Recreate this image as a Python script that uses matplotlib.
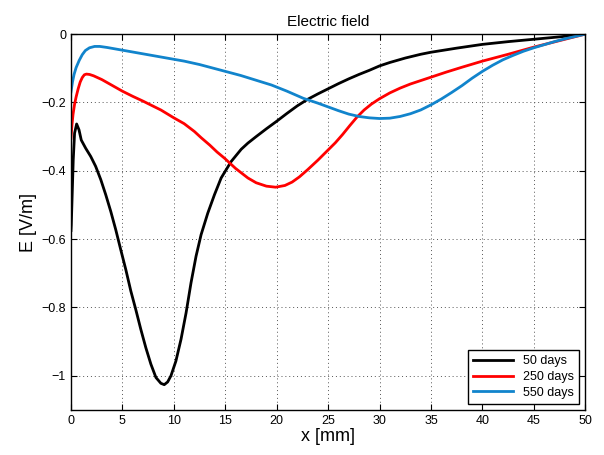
import numpy as np
import matplotlib.pyplot as plt

plt.rcParams['font.family'] = ['Liberation Sans', 'DejaVu Sans']

# 50 days
x50 = [0, 0.03, 0.22, 0.35, 0.55, 0.78, 1.0, 1.43, 1.92, 2.4, 2.9, 3.38, 3.87,
       4.35, 4.84, 5.33, 5.82, 6.3, 6.79, 7.28, 7.77, 8.26, 8.74, 9.07, 9.4,
       9.72, 10.2, 10.7, 11.19, 11.67, 12.16, 12.65, 13.3, 13.95, 14.6, 15.57,
       16.55, 17.2, 18, 19, 20, 21, 22, 23, 24, 25, 26, 27, 28, 29, 30, 31,
       32.5, 34, 35, 37.5, 40, 42.5, 45, 47.5, 50]
y50 = [-0.575, -0.558, -0.368, -0.29, -0.263, -0.28, -0.31, -0.334, -0.358,
       -0.387, -0.426, -0.47, -0.519, -0.572, -0.631, -0.689, -0.752, -0.806,
       -0.864, -0.918, -0.966, -1.005, -1.022, -1.026, -1.018, -1.0, -0.957,
       -0.893, -0.816, -0.728, -0.65, -0.587, -0.524, -0.47, -0.421, -0.373,
       -0.337, -0.319, -0.3, -0.277, -0.255, -0.232, -0.21, -0.191, -0.175,
       -0.16, -0.145, -0.131, -0.118, -0.106, -0.093, -0.083, -0.07, -0.059,
       -0.053, -0.041, -0.03, -0.022, -0.015, -0.008, 0]

# 250 days
x250 = [0, 0.1, 0.2, 0.35, 0.5, 0.7, 0.9, 1.1, 1.3, 1.5, 1.8, 2.2, 3, 4, 5, 6,
        7, 8, 8.74, 10, 11, 12, 12.65, 13.5, 14.2, 14.92, 16, 17.2, 18, 19,
        19.9, 20.8, 21.5, 22.2, 23, 24, 25, 25.7, 26.4, 27.1, 27.8, 28.5, 29.2,
        30, 31, 32, 33, 34, 35, 36.5, 38, 40, 42.5, 45, 47.5, 50]
y250 = [-0.305, -0.265, -0.235, -0.205, -0.184, -0.16, -0.14, -0.127, -0.119,
        -0.117, -0.118, -0.122, -0.133, -0.15, -0.167, -0.182, -0.196, -0.211,
        -0.222, -0.245, -0.262, -0.285, -0.303, -0.325, -0.345, -0.363,
        -0.393, -0.421, -0.435, -0.445, -0.448, -0.443, -0.433, -0.418,
        -0.397, -0.369, -0.339, -0.318, -0.294, -0.268, -0.243, -0.222,
        -0.205, -0.189, -0.172, -0.158, -0.146, -0.136, -0.126, -0.111,
        -0.097, -0.079, -0.059, -0.038, -0.019, 0]

# 550 days
x550 = [0, 0.15, 0.3, 0.5, 0.8, 1.1, 1.4, 1.8, 2.3, 2.8, 3.5, 5, 6.5, 8, 9.5,
        11, 12.5, 14, 15, 16.5, 18, 19.5, 21, 22.6, 24, 25, 26, 27, 28, 29, 30,
        31, 32, 33, 34, 35, 36, 37, 38, 39, 40, 41, 42, 43, 44, 45, 46, 47, 48,
        49, 50]
y550 = [-0.169, -0.14, -0.118, -0.098, -0.077, -0.06, -0.048, -0.04, -0.036,
        -0.036, -0.039, -0.047, -0.055, -0.063, -0.071, -0.079, -0.089,
        -0.101, -0.109, -0.121, -0.135, -0.149, -0.167, -0.188, -0.202,
        -0.213, -0.224, -0.234, -0.241, -0.245, -0.247, -0.246, -0.241,
        -0.233, -0.222, -0.207, -0.19, -0.171, -0.151, -0.129, -0.109,
        -0.091, -0.075, -0.062, -0.05, -0.04, -0.031, -0.022, -0.014, -0.007, 0]

yticks = [0, -0.2, -0.4, -0.6, -0.8, -1]
ytick_labels = ['0', '\u22120.2', '\u22120.4', '\u22120.6', '\u22120.8', '\u22121']

fig = plt.figure(figsize=(6.04, 4.55), dpi=100)
ax = fig.add_axes([0.1175, 0.099, 0.8515, 0.826])

ax.plot(x50, y50, color='black', lw=2, label='50 days')
ax.plot(x250, y250, color='#ff0000', lw=2, label='250 days')
ax.plot(x550, y550, color='#1184cc', lw=2, label='550 days')

ax.set_xlim(0, 50)
ax.set_ylim(-1.1, 0)
ax.set_xticks(range(0, 51, 5))
ax.set_yticks(yticks)
ax.set_yticklabels(ytick_labels)
ax.tick_params(direction='in', top=True, right=True, labelsize=9, length=4)
ax.grid(True, linestyle=(0, (1, 3)), color='#555555', linewidth=0.7)
for s in ax.spines.values():
    s.set_linewidth(1)

ax.set_title('Electric field', fontsize=11)
ax.set_xlabel('x [mm]', fontsize=13, labelpad=1)
ax.set_ylabel('E [V/m]', fontsize=13, labelpad=3)

leg = ax.legend(loc='lower right', fontsize=9, fancybox=False, edgecolor='black',
                framealpha=1, handlelength=3.2, borderaxespad=0.5,
                labelspacing=0.3)
leg.get_frame().set_linewidth(1)

fig.savefig('out.png', dpi=100)
